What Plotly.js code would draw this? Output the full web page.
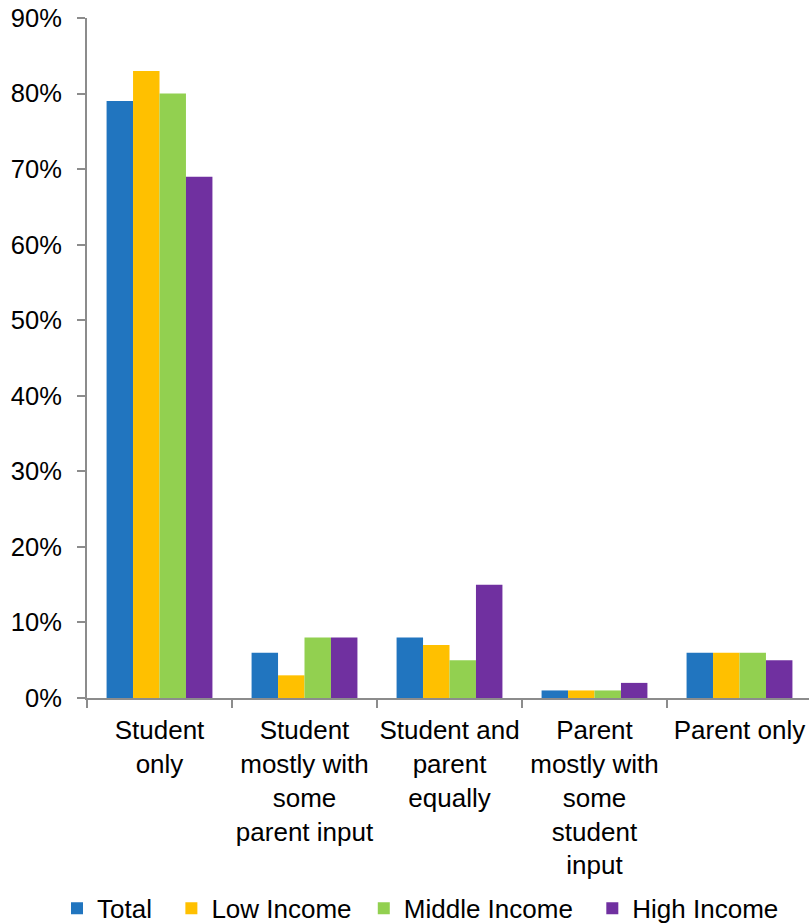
<!DOCTYPE html>
<html>
<head>
<meta charset="utf-8">
<script src="https://cdn.plot.ly/plotly-3.0.1.min.js"></script>
<style>html,body{margin:0;padding:0;overflow:hidden;background:#fff}</style>
</head>
<body>
<div id="chart" style="width:812px;height:923px"></div>
<script>
const categories = [
  "Student<br>only",
  "Student<br>mostly with<br>some<br>parent input",
  "Student and<br>parent<br>equally",
  "Parent<br>mostly with<br>some<br>student<br>input",
  "Parent only"
];
const seriesNames = ["Total", "Low Income", "Middle Income", "High Income"];
const totalVals  = [79, 6, 8, 1, 6];
const lowVals    = [83, 3, 7, 1, 6];
const middleVals = [80, 8, 5, 1, 6];
const highVals   = [69, 8, 15, 2, 5];
const colors = ["#2175BF", "#FFC000", "#92D050", "#7030A0"];
const yTickVals = [0, 10, 20, 30, 40, 50, 60, 70, 80, 90];
// extra legend spacing (non-breaking spaces) to match item spacing
const legendPad = ["\u00a0\u00a0", "\u00a0", "\u00a0\u00a0", ""];

const allVals = [totalVals, lowVals, middleVals, highVals];
const traces = allVals.map((v, i) => ({
  type: "bar",
  name: seriesNames[i] + legendPad[i],
  x: categories,
  y: v,
  marker: {color: colors[i], line: {width: 0}},
  hoverinfo: "skip"
}));

const layout = {
  width: 812, height: 923,
  margin: {l: 87, r: 0, t: 18, b: 225},
  paper_bgcolor: "#fff", plot_bgcolor: "#fff",
  font: {family: "Liberation Sans, Arial, sans-serif", size: 26, color: "#000"},
  barmode: "group",
  bargap: 0.27,
  bargroupgap: 0,
  showlegend: true,
  legend: {
    orientation: "h",
    xref: "container", yref: "container",
    x: 57 / 812, xanchor: "left",
    y: 0.016, yanchor: "middle",
    font: {size: 26, color: "#000"},
    traceorder: "normal"
  },
  xaxis: {
    type: "category",
    showline: true, linecolor: "#8C8C8C", linewidth: 2,
    ticks: "outside", tickson: "boundaries", ticklen: 8, tickcolor: "#8C8C8C", tickwidth: 2,
    showgrid: false, zeroline: false,
    tickangle: 0,
    tickfont: {size: 26, color: "#000"},
    ticklabelstandoff: 8,
    fixedrange: true
  },
  yaxis: {
    range: [0, 90],
    tickvals: yTickVals,
    ticktext: yTickVals.map(v => v + "%"),
    showline: true, linecolor: "#8C8C8C", linewidth: 2,
    ticks: "outside", ticklen: 8, tickcolor: "#8C8C8C", tickwidth: 2,
    showgrid: false, zeroline: false,
    tickfont: {size: 25.5, color: "#000"},
    ticklabelstandoff: 10,
    fixedrange: true
  }
};

Plotly.newPlot("chart", traces, layout, {displayModeBar: false, staticPlot: true});
</script>
</body>
</html>
